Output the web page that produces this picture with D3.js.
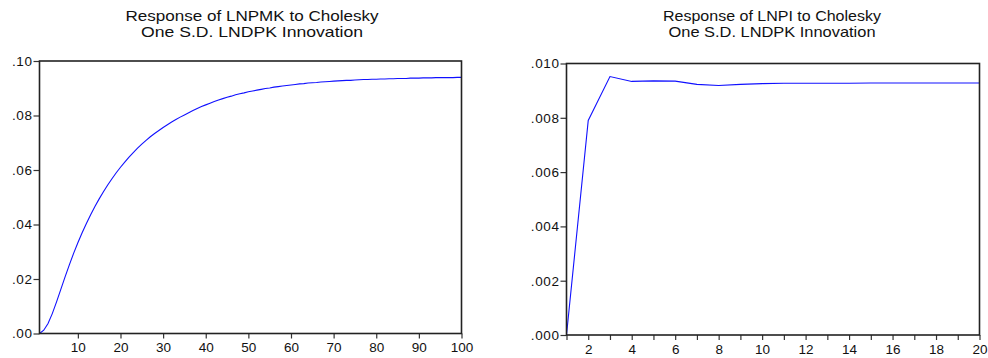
<!DOCTYPE html>
<html>
<head>
<meta charset="utf-8">
<script src="https://cdn.jsdelivr.net/npm/d3@7"></script>
<style>
  html, body { margin: 0; padding: 0; background: #fff; }
  svg { display: block; }
  text { font-family: "Liberation Sans", Arial, sans-serif; fill: #111; }
</style>
</head>
<body>
<svg id="chart" width="988" height="358"></svg>
<script>
// Response of LNPMK to a Cholesky one S.D. LNDPK innovation, periods 1..100
const lnpmkResponse = [
  0.0000, 0.0012, 0.0037, 0.0073, 0.0116, 0.0162, 0.0208, 0.0252, 0.0294, 0.0333,
  0.0370, 0.0404, 0.0436, 0.0466, 0.0494, 0.0520, 0.0545, 0.0568, 0.0590, 0.0610,
  0.0629, 0.0647, 0.0664, 0.0680, 0.0695, 0.0709, 0.0722, 0.0734, 0.0745, 0.0756,
  0.0766, 0.0776, 0.0785, 0.0794, 0.0802, 0.0810, 0.0818, 0.0826, 0.0833, 0.0839,
  0.0845, 0.0851, 0.0857, 0.0862, 0.0867, 0.0871, 0.0876, 0.0880, 0.0883, 0.0887,
  0.0890, 0.0893, 0.0896, 0.0899, 0.0901, 0.0904, 0.0906, 0.0908, 0.0910, 0.0912,
  0.0914, 0.0916, 0.0917, 0.0919, 0.0920, 0.0921, 0.0923, 0.0924, 0.0925, 0.0926,
  0.0927, 0.0928, 0.0929, 0.0929, 0.0930, 0.0931, 0.0932, 0.0932, 0.0933, 0.0933,
  0.0934, 0.0934, 0.0935, 0.0935, 0.0936, 0.0936, 0.0936, 0.0937, 0.0937, 0.0937,
  0.0938, 0.0938, 0.0938, 0.0939, 0.0939, 0.0939, 0.0939, 0.0939, 0.0940, 0.0940
];

// Response of LNPI to a Cholesky one S.D. LNDPK innovation, periods 1..20
const lnpiResponse = [
  0.00000, 0.00790, 0.00952, 0.00934, 0.00936, 0.00935, 0.00923, 0.00919, 0.00923, 0.00926,
  0.00927, 0.00927, 0.00927, 0.00927, 0.00928, 0.00928, 0.00928, 0.00928, 0.00928, 0.00928
];

const leftTitle = ["Response of LNPMK to Cholesky", "One S.D. LNDPK Innovation"];
const rightTitle = ["Response of LNPI to Cholesky", "One S.D. LNDPK Innovation"];

const leftXTicks = [10, 20, 30, 40, 50, 60, 70, 80, 90, 100];
const leftYTicks = [0, 0.02, 0.04, 0.06, 0.08, 0.10];
const leftYLabels = [".00", ".02", ".04", ".06", ".08", ".10"];

const rightXTicks = [1, 2, 3, 4, 5, 6, 7, 8, 9, 10, 11, 12, 13, 14, 15, 16, 17, 18, 19, 20];
const rightXLabels = [2, 4, 6, 8, 10, 12, 14, 16, 18, 20];
const rightYTicks = [0, 0.002, 0.004, 0.006, 0.008, 0.010];
const rightYLabels = [".000", ".002", ".004", ".006", ".008", ".010"];

const svg = d3.select("#chart");

function panel(cfg) {
  const x = d3.scaleLinear().domain(cfg.xDomain).range([cfg.left, cfg.right]);
  const y = d3.scaleLinear().domain(cfg.yDomain).range([cfg.bottom, cfg.top]);
  const g = svg.append("g");

  // title, two lines centered over the plot
  cfg.title.forEach((t, i) => {
    g.append("text")
      .attr("x", cfg.titleX)
      .attr("y", 20.5 + i * 16)
      .attr("text-anchor", "middle")
      .attr("font-size", 15)
      .attr("textLength", cfg.titleWidths[i])
      .attr("lengthAdjust", "spacingAndGlyphs")
      .text(t);
  });

  // y axis ticks and labels
  const yAxis = d3.axisLeft(y)
    .tickValues(cfg.yTicks)
    .tickFormat((d, i) => cfg.yLabels[i])
    .tickSize(6)
    .tickPadding(1);
  const ya = g.append("g").attr("transform", `translate(${cfg.left},0)`).call(yAxis);
  ya.select(".domain").remove();
  ya.selectAll("line").attr("stroke", "#333").attr("stroke-width", 1.2);
  ya.selectAll("text")
    .attr("font-size", 13.5)
    .attr("letter-spacing", 0.6)
    .attr("font-family", "Liberation Sans, Arial, sans-serif")
    .attr("fill", "#111");

  // x axis ticks
  const xAxis = d3.axisBottom(x)
    .tickValues(cfg.xTicks)
    .tickFormat(d => cfg.xLabels.includes(d) ? String(d) : "")
    .tickSize(5)
    .tickPadding(4);
  const xa = g.append("g").attr("transform", `translate(0,${cfg.bottom})`).call(xAxis);
  xa.select(".domain").remove();
  xa.selectAll("line").attr("stroke", "#333").attr("stroke-width", 1.2);
  xa.selectAll("text").attr("font-size", 13.5).attr("font-family", "Liberation Sans, Arial, sans-serif").attr("fill", "#111");

  // response line
  const line = d3.line()
    .x((d, i) => x(i + 1))
    .y(d => y(d));
  g.append("path")
    .datum(cfg.values)
    .attr("fill", "none")
    .attr("stroke", "#1010ff")
    .attr("stroke-width", 1.1)
    .attr("d", line);

  // plot frame
  g.append("rect")
    .attr("x", cfg.left)
    .attr("y", cfg.top)
    .attr("width", cfg.right - cfg.left)
    .attr("height", cfg.bottom - cfg.top)
    .attr("fill", "none")
    .attr("stroke", "#222")
    .attr("stroke-width", 1.6);
}

panel({
  values: lnpmkResponse,
  xDomain: [1, 100], yDomain: [0, 0.10],
  left: 39.5, right: 461.5, top: 61, bottom: 333.5,
  xTicks: leftXTicks, xLabels: leftXTicks,
  yTicks: leftYTicks, yLabels: leftYLabels,
  title: leftTitle, titleX: 252, titleWidths: [253, 222]
});

panel({
  values: lnpiResponse,
  xDomain: [1, 20], yDomain: [0, 0.010],
  left: 566.5, right: 979.5, top: 63.5, bottom: 335,
  xTicks: rightXTicks, xLabels: rightXLabels,
  yTicks: rightYTicks, yLabels: rightYLabels,
  title: rightTitle, titleX: 772, titleWidths: [218, 207]
});
</script>
</body>
</html>
